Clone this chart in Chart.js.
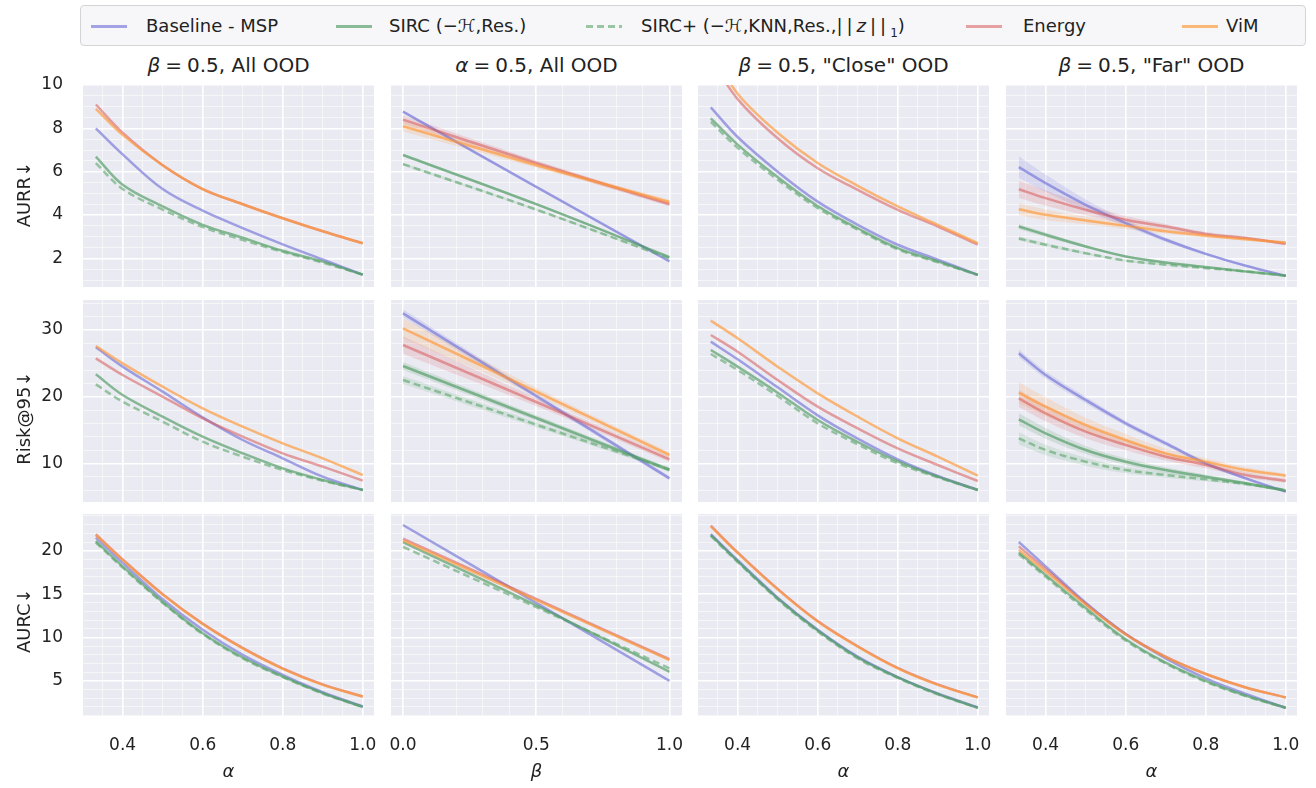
<!DOCTYPE html>
<html>
<head>
<meta charset="utf-8">
<script src="https://cdn.jsdelivr.net/npm/chart.js@4.4.1/dist/chart.umd.min.js"></script>
<style>
  body { margin: 0; width: 1316px; height: 788px; position: relative; overflow: hidden; background: #fff;
         font-family: "DejaVu Sans", sans-serif; color: #222; }
  canvas { position: absolute; }
  .coltitle { position: absolute; width: 291px; text-align: center; font-size: 20px; line-height: 24px; top: 53px; white-space: nowrap; }
  .eq { margin: 0 5px; }
  #legend { position: absolute; left: 80px; top: 5px; width: 1224px; height: 39px; border: 1px solid #d4d4d4;
            border-radius: 4px; background: #f7f7f9; }
  .item { position: absolute; top: 0; height: 40px; line-height: 40px; font-size: 18px; white-space: nowrap; }
  .swatch { position: absolute; top: 19px; width: 36px; height: 2.5px; }
</style>
</head>
<body>
<div id="legend"></div>
<script>
// x values
const alphaX = [0.333, 0.4, 0.5, 0.6, 0.7, 0.8, 0.9, 1.0];
const betaX = [0, 0.5, 1];

// tick labels
const alphaTicks = [0.4, 0.6, 0.8, 1.0];
const betaTicks = [0, 0.5, 1.0];
const aurrTicks = [2, 4, 6, 8, 10];
const riskTicks = [10, 20, 30];
const aurcTicks = [5, 10, 15, 20];

// methods (rows of every panel array follow this order)
const methods = ['Baseline - MSP', 'SIRC (−ℋ,Res.)', 'SIRC+ (−ℋ,KNN,Res.,||z||₁)', 'Energy', 'ViM'];

// AURR
const aurrAll = [
  [8.0, 6.8, 5.2, 4.2, 3.4, 2.65, 1.95, 1.25],
  [6.7, 5.4, 4.4, 3.55, 2.95, 2.35, 1.85, 1.25],
  [6.4, 5.2, 4.25, 3.45, 2.85, 2.3, 1.8, 1.25],
  [9.1, 7.8, 6.3, 5.2, 4.5, 3.85, 3.25, 2.7],
  [8.9, 7.7, 6.3, 5.2, 4.5, 3.85, 3.25, 2.7]
];
const aurrBeta = [
  [8.77, 5.3, 1.86],
  [6.77, 4.5, 2.06],
  [6.35, 4.25, 2.0],
  [8.4, 6.4, 4.5],
  [8.1, 6.3, 4.6]
];
const aurrClose = [
  [8.97, 7.6, 6.0, 4.62, 3.55, 2.63, 1.94, 1.24],
  [8.46, 7.25, 5.75, 4.42, 3.39, 2.47, 1.86, 1.24],
  [8.3, 7.1, 5.63, 4.32, 3.32, 2.42, 1.82, 1.24],
  [11.2, 9.35, 7.54, 6.16, 5.16, 4.24, 3.47, 2.63],
  [11.6, 9.6, 7.8, 6.4, 5.35, 4.4, 3.55, 2.7]
];
const aurrFar = [
  [6.21, 5.47, 4.47, 3.63, 2.86, 2.21, 1.66, 1.2],
  [3.47, 3.09, 2.55, 2.09, 1.81, 1.6, 1.4, 1.2],
  [2.92, 2.63, 2.24, 1.9, 1.71, 1.55, 1.4, 1.2],
  [5.19, 4.78, 4.24, 3.78, 3.47, 3.13, 2.94, 2.67],
  [4.27, 4.01, 3.75, 3.5, 3.25, 3.05, 2.88, 2.73]
];

// Risk@95
const riskAll = [
  [27.4, 24.5, 20.75, 16.9, 13.5, 10.75, 8.0, 6.0],
  [23.35, 20.25, 17.0, 14.0, 11.5, 9.25, 7.5, 6.0],
  [21.85, 19.25, 16.25, 13.25, 11.0, 9.0, 7.4, 6.0],
  [25.75, 23.25, 20.0, 16.75, 14.0, 11.5, 9.5, 7.4],
  [27.6, 25.0, 21.5, 18.25, 15.5, 13.0, 10.75, 8.25]
];
const riskBeta = [
  [32.5, 20.1, 7.75],
  [24.6, 16.8, 9.0],
  [22.5, 15.8, 9.1],
  [27.75, 19.2, 10.6],
  [30.25, 20.75, 11.25]
];
const riskClose = [
  [28.25, 25.6, 21.4, 17.2, 13.7, 10.6, 8.1, 6.0],
  [27.0, 24.5, 20.6, 16.5, 13.2, 10.3, 8.0, 6.0],
  [26.4, 24.0, 20.1, 16.0, 12.85, 10.0, 7.9, 6.0],
  [29.25, 26.75, 22.5, 18.5, 15.25, 12.25, 9.75, 7.35],
  [31.4, 28.75, 24.5, 20.5, 17.0, 13.75, 11.0, 8.15]
];
const riskFar = [
  [26.5, 23.25, 19.5, 16.0, 13.0, 10.0, 7.75, 5.75],
  [16.6, 14.5, 12.0, 10.25, 9.0, 8.0, 7.0, 5.9],
  [13.75, 12.0, 10.25, 9.0, 8.25, 7.6, 6.9, 6.0],
  [19.75, 17.5, 14.75, 12.75, 11.0, 9.75, 8.25, 7.4],
  [20.6, 18.5, 15.75, 13.5, 11.5, 10.25, 9.0, 8.15]
];

// AURC
const aurcAll = [
  [21.5, 18.6, 14.4, 10.9, 8.0, 5.7, 3.7, 2.05],
  [21.1, 18.2, 14.1, 10.5, 7.7, 5.5, 3.6, 2.0],
  [20.95, 18.05, 14.0, 10.4, 7.6, 5.45, 3.55, 2.0],
  [21.9, 19.0, 15.0, 11.6, 8.8, 6.45, 4.6, 3.2],
  [21.8, 18.95, 14.95, 11.55, 8.75, 6.4, 4.55, 3.2]
];
const aurcBeta = [
  [22.96, 14.0, 5.0],
  [21.0, 13.7, 6.05],
  [20.45, 13.5, 6.45],
  [21.4, 14.45, 7.5],
  [21.2, 14.3, 7.4]
];
const aurcClose = [
  [21.9, 18.9, 14.6, 10.9, 7.8, 5.45, 3.55, 1.95],
  [21.8, 18.8, 14.5, 10.8, 7.7, 5.4, 3.5, 1.9],
  [21.7, 18.7, 14.4, 10.7, 7.6, 5.35, 3.45, 1.9],
  [22.9, 19.8, 15.6, 11.9, 9.0, 6.5, 4.6, 3.1],
  [22.8, 19.75, 15.55, 11.85, 8.95, 6.45, 4.55, 3.1]
];
const aurcFar = [
  [21.0, 18.2, 14.0, 10.4, 7.6, 5.3, 3.5, 1.9],
  [19.8, 17.2, 13.4, 9.8, 7.1, 5.0, 3.3, 1.9],
  [19.6, 17.0, 13.2, 9.65, 7.0, 4.9, 3.25, 1.9],
  [20.5, 17.9, 13.9, 10.4, 7.8, 5.8, 4.25, 3.1],
  [20.1, 17.6, 13.8, 10.35, 7.75, 5.8, 4.25, 3.1]
];

// spread (half width of the shaded bands)
const aurrBetaSd = [
  [0.05, 0.04, 0.03],
  [0.06, 0.05, 0.04],
  [0.06, 0.05, 0.04],
  [0.2, 0.12, 0.1],
  [0.25, 0.12, 0.1]
];
const aurrFarSd = [
  [0.5, 0.4, 0.25, 0.15, 0.1, 0.06, 0.04, 0.03],
  [0.12, 0.1, 0.07, 0.05, 0.04, 0.03, 0.02, 0.02],
  [0.1, 0.08, 0.06, 0.05, 0.04, 0.03, 0.02, 0.02],
  [0.4, 0.35, 0.25, 0.18, 0.12, 0.09, 0.07, 0.06],
  [0.28, 0.24, 0.18, 0.14, 0.1, 0.08, 0.07, 0.06]
];
const riskBetaSd = [
  [0.6, 0.4, 0.3],
  [0.6, 0.4, 0.3],
  [0.6, 0.4, 0.3],
  [1.3, 0.6, 0.4],
  [1.5, 0.6, 0.4]
];
const riskFarSd = [
  [0.6, 0.55, 0.5, 0.4, 0.35, 0.3, 0.2, 0.15],
  [0.9, 0.8, 0.6, 0.5, 0.4, 0.3, 0.25, 0.2],
  [0.9, 0.8, 0.6, 0.5, 0.4, 0.3, 0.25, 0.2],
  [1.3, 1.2, 1.0, 0.8, 0.6, 0.5, 0.4, 0.3],
  [1.6, 1.4, 1.1, 0.9, 0.7, 0.5, 0.4, 0.3]
];

const colTitles = [
  '<i>β</i><span class="eq">=</span>0.5, All OOD',
  '<i>α</i><span class="eq">=</span>0.5, All OOD',
  '<i>β</i><span class="eq">=</span>0.5, "Close" OOD',
  '<i>β</i><span class="eq">=</span>0.5, "Far" OOD'
];
const legendHtml = [
  'Baseline - MSP',
  'SIRC (−<i>ℋ</i>,Res.)',
  'SIRC+ (−<i>ℋ</i>,KNN,Res.,<span style="letter-spacing:4px">||<i>z</i>||</span><sub style="font-size:12px">1</sub>)',
  'Energy',
  'ViM'
];

// styling
const rgb = [[110, 110, 215], [70, 150, 90], [90, 165, 105], [215, 90, 90], [255, 150, 50]];
const lineAlpha = [0.62, 0.62, 0.6, 0.55, 0.65];
const rgba = (c, a) => `rgba(${c[0]},${c[1]},${c[2]},${a})`;
const FONT = '"DejaVu Sans", sans-serif';

const plotLeft = [83, 391, 698, 1006];
const plotTop = [85, 300, 514];
const plotW = 291, plotH = 202;

const rows = [
  { label: 'AURR↓   ', min: 0.68, max: 10, ticks: aurrTicks, minor: 0.5 },
  { label: 'Risk@95↓      ', min: 4.2, max: 34.5, ticks: riskTicks, minor: 2 },
  { label: 'AURC↓  ', min: 0.96, max: 24.23, ticks: aurcTicks, minor: 1 }
];
const cols = [
  { xs: alphaX, ticks: alphaTicks, min: 0.301, max: 1.028, minor: 0.05, xlabel: 'α' },
  { xs: betaX, ticks: betaTicks, min: -0.045, max: 1.047, minor: 0.1, xlabel: 'β' },
  { xs: alphaX, ticks: alphaTicks, min: 0.301, max: 1.028, minor: 0.05, xlabel: 'α' },
  { xs: alphaX, ticks: alphaTicks, min: 0.301, max: 1.028, minor: 0.05, xlabel: 'α' }
];
const panelData = [
  [aurrAll, aurrBeta, aurrClose, aurrFar],
  [riskAll, riskBeta, riskClose, riskFar],
  [aurcAll, aurcBeta, aurcClose, aurcFar]
];
const panelSd = [
  [null, aurrBetaSd, null, aurrFarSd],
  [null, riskBetaSd, null, riskFarSd],
  [null, null, null, null]
];

// legend
const legend = document.getElementById('legend');
const legendLine = [10, 255, 505, 885, 1101];
const legendText = [65, 308, 560, 942, 1145];
methods.forEach((m, i) => {
  const sw = document.createElement('div');
  sw.className = 'swatch';
  sw.style.left = legendLine[i] + 'px';
  if (i === 2) {
    sw.style.background = `repeating-linear-gradient(90deg, ${rgba(rgb[i], lineAlpha[i])} 0 7px, transparent 7px 11px)`;
  } else {
    sw.style.background = rgba(rgb[i], lineAlpha[i]);
  }
  legend.appendChild(sw);
  const t = document.createElement('div');
  t.className = 'item';
  t.style.left = legendText[i] + 'px';
  t.innerHTML = legendHtml[i];
  legend.appendChild(t);
});

colTitles.forEach((txt, c) => {
  const d = document.createElement('div');
  d.className = 'coltitle';
  d.style.left = plotLeft[c] + 'px';
  d.innerHTML = txt;
  document.body.appendChild(d);
});

const panelBg = {
  id: 'panelBg',
  beforeDraw(chart) {
    const { ctx, chartArea: a } = chart;
    ctx.save();
    ctx.fillStyle = '#eaeaf2';
    ctx.fillRect(a.left, a.top, a.right - a.left, a.bottom - a.top);
    ctx.restore();
  }
};

const isMajor = (v, list) => list.some(t => Math.abs(t - v) < 1e-6);

for (let r = 0; r < 3; r++) {
  for (let c = 0; c < 4; c++) {
    const row = rows[r], col = cols[c];
    // room around the plot area so the axis labels never push it
    const padL = c === 0 ? 83 : 34;
    const padR = 34, padT = 34;
    const padB = r === 2 ? 788 - (plotTop[r] + plotH) : 0;
    const extraB = r === 2 ? 0 : 34;

    const canvas = document.createElement('canvas');
    canvas.width = padL + plotW + padR;
    canvas.height = padT + plotH + padB + extraB;
    canvas.style.left = (plotLeft[c] - padL) + 'px';
    canvas.style.top = (plotTop[r] - padT) + 'px';
    document.body.appendChild(canvas);

    const vals = panelData[r][c];
    const sd = panelSd[r][c];
    const datasets = [];
    for (let m = 0; m < methods.length; m++) {
      if (sd) {
        datasets.push({
          data: col.xs.map((x, i) => ({ x: x, y: vals[m][i] - sd[m][i] })),
          borderWidth: 0, pointRadius: 0, fill: false, order: 20 - m, tension: 0.35
        });
        datasets.push({
          data: col.xs.map((x, i) => ({ x: x, y: vals[m][i] + sd[m][i] })),
          borderWidth: 0, pointRadius: 0, fill: '-1', order: 20 - m, tension: 0.35,
          backgroundColor: rgba(rgb[m], 0.16)
        });
      }
      datasets.push({
        label: methods[m],
        data: col.xs.map((x, i) => ({ x: x, y: vals[m][i] })),
        borderColor: rgba(rgb[m], lineAlpha[m]),
        borderWidth: 2.5,
        borderDash: m === 2 ? [7, 4] : [],
        pointRadius: 0,
        fill: false,
        order: 10 - m,
        tension: 0.35
      });
    }

    const gridOpts = list => ({
      drawTicks: false,
      color: ctx => (ctx.tick && isMajor(ctx.tick.value, list)) ? '#ffffff' : 'rgba(255,255,255,0.7)',
      lineWidth: ctx => (ctx.tick && isMajor(ctx.tick.value, list)) ? 1.6 : 0.8
    });

    new Chart(canvas.getContext('2d'), {
      type: 'line',
      data: { datasets: datasets },
      plugins: [panelBg],
      options: {
        responsive: false,
        animation: false,
        events: [],
        layout: { padding: { left: c === 0 ? 0 : padL, right: padR, top: padT, bottom: extraB } },
        plugins: { legend: { display: false }, tooltip: { enabled: false } },
        scales: {
          x: {
            type: 'linear',
            min: col.min,
            max: col.max,
            border: { display: false },
            grid: gridOpts(col.ticks),
            ticks: {
              display: r === 2,
              stepSize: col.minor,
              includeBounds: false,
              autoSkip: false,
              maxRotation: 0,
              maxTicksLimit: 100,
              padding: 19,
              color: '#222',
              font: { family: FONT, size: 17 },
              callback: v => isMajor(v, col.ticks) ? v.toFixed(1) : ''
            },
            title: {
              display: r === 2,
              text: col.xlabel,
              color: '#222',
              font: { family: FONT, size: 18, style: 'italic' },
              padding: { top: 0, bottom: 5 }
            },
            afterFit: s => { s.height = padB; }
          },
          y: {
            type: 'linear',
            min: row.min,
            max: row.max,
            border: { display: false },
            grid: gridOpts(row.ticks),
            ticks: {
              display: c === 0,
              stepSize: row.minor,
              includeBounds: false,
              autoSkip: false,
              maxTicksLimit: 100,
              padding: 20,
              color: '#222',
              font: { family: FONT, size: 17 },
              callback: v => isMajor(v, row.ticks) ? String(v) : ''
            },
            title: {
              display: c === 0,
              text: row.label,
              color: '#222',
              font: { family: FONT, size: 18 },
              padding: { top: 15, bottom: 0 }
            },
            afterFit: s => { s.width = c === 0 ? 83 : 0; }
          }
        }
      }
    });
  }
}
</script>
</body>
</html>
